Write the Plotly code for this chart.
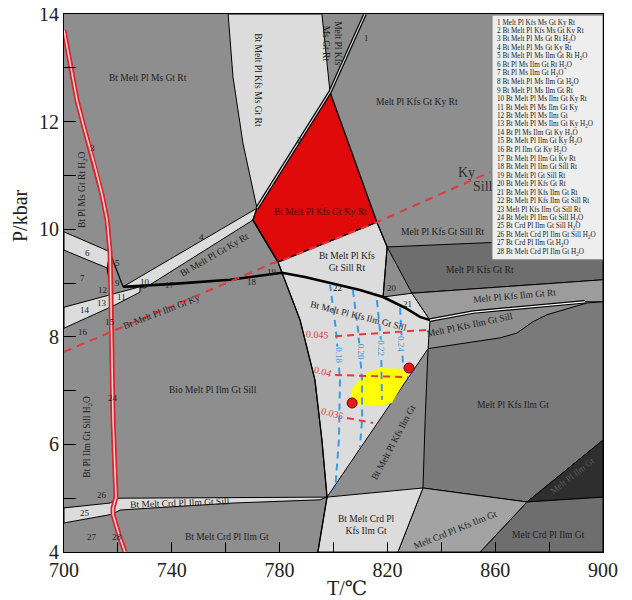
import plotly.graph_objects as go

FONT = "Liberation Serif, DejaVu Serif, serif"
BG = "#8e8e8e"
LIGHT = "#dcdcdc"

# ---------------- phase-field polygons (T in °C, P in kbar) ----------------
field_kfs_ms = [(760.9, 14.0), (762.7, 12.83), (766.4, 11.60), (771.6, 10.39),
                (798.7, 12.55), (797.2, 13.29), (795.7, 14.0)]
field_red = [(771.6, 10.39), (798.7, 12.55), (816.1, 10.13), (779.4, 9.39), (770.1, 10.17)]
band4 = [(771.6, 10.39), (770.1, 10.17), (730.1, 8.91), (721.9, 8.93)]
band6 = [(700, 9.95), (717.1, 9.58), (716.0, 9.28), (700, 9.61)]
band14 = [(700, 8.55), (728.2, 8.93), (728.2, 8.83), (718.9, 8.59), (700, 8.16)]
thick = [(721.9, 8.93), (739.3, 8.98), (761.6, 9.06), (772.7, 9.13), (780.9, 9.19),
         (789.4, 9.11), (798.7, 9.00), (809.8, 8.87), (818.4, 8.74), (826.5, 8.54),
         (832.1, 8.37), (835.8, 8.31)]
field_sill_rt = [(779.4, 9.39), (816.1, 10.13), (819.9, 9.67), (818.4, 8.74), (809.8, 8.87),
                 (798.7, 9.00), (789.4, 9.11), (780.9, 9.19)]
field21 = [(818.4, 8.74), (829.1, 8.81), (835.8, 8.31), (832.1, 8.37), (826.5, 8.54)]
band_dark = [(819.9, 9.67), (900, 9.84), (900, 9.06), (829.1, 8.81)]
band_ilm_rt = [(829.1, 8.81), (900, 9.06), (900, 8.65), (893.3, 8.65), (851.8, 8.46), (835.8, 8.31)]
field_big = [(835.1, 7.78), (861.8, 7.98), (868.1, 8.07), (874.0, 8.28), (879.2, 8.41),
             (894.1, 8.63), (900, 8.65), (900, 6.08), (871.8, 4.93), (833.2, 5.19), (834.0, 6.45)]
field_black = [(871.8, 4.93), (900, 6.08), (900, 5.02)]
field_crd_ilm = [(871.8, 4.93), (900, 5.02), (900, 4.0), (854.4, 4.0)]
field_crd_kfs = [(833.2, 5.19), (871.8, 4.93), (854.4, 4.0), (823.9, 4.0)]
field_bt_crd_kfs = [(797.6, 5.02), (833.2, 5.19), (823.9, 4.0), (794.2, 4.0)]
field_sill = thick[4:] + [(835.1, 7.78), (797.6, 5.02), (795.7, 6.08), (793.1, 7.20), (787.6, 8.31)]
band_crd_sill = [(700, 4.82), (717.1, 4.91), (720.0, 5.00), (797.6, 5.02), (795.0, 4.97),
                 (762.7, 4.91), (720.8, 4.78), (717.8, 4.70), (700, 4.54)]
field_yellow = [(806.1, 6.83), (807.2, 7.07), (812.4, 7.33), (817.3, 7.42), (825.8, 7.40),
                (828.4, 7.35), (821.7, 6.77), (818.4, 6.73), (810.9, 6.73)]

# ---------------- boundary lines ----------------
left_edge = [(770.1, 10.17), (779.4, 9.39), (780.9, 9.19), (787.6, 8.31), (793.1, 7.20),
             (795.7, 6.08), (797.6, 5.02), (794.2, 4.0)]
div_20 = [(816.1, 10.13), (819.9, 9.67), (818.4, 8.74)]
double_1 = [(798.7, 12.55), (811.7, 14.0)]
double_2 = [(798.7, 12.55), (771.6, 10.39)]
sliver = [(835.8, 8.31), (851.8, 8.46), (893.3, 8.65)]
small_a = [(717.1, 9.56), (721.9, 8.93)]
small_b = [(716.0, 9.28), (717.1, 8.96)]
h2o_line = [(700, 13.70), (702.2, 13.11), (704.8, 12.40), (708.2, 11.75), (711.5, 11.16),
            (714.1, 10.64), (716.0, 10.17), (717.1, 9.56), (717.4, 8.87), (717.8, 7.57),
            (718.2, 6.45), (718.9, 5.52), (719.3, 5.02), (718.2, 4.82), (718.2, 4.69),
            (720.4, 4.32), (722.6, 4.0)]
ky_sill = [(700, 7.72), (761.6, 9.02), (773.5, 9.28), (775.7, 9.35), (779.4, 9.39),
           (816.1, 10.13), (858.1, 11.06)]

# isopleths
iso_blue = {
    "0.18": [(798.7, 8.98), (800.9, 8.13), (802.4, 7.20), (802.0, 6.08), (800.6, 5.15)],
    "0.20": [(807.2, 8.87), (809.1, 8.13), (810.6, 7.20), (810.6, 6.45), (809.8, 5.95)],
    "0.22": [(816.1, 8.68), (817.6, 7.94), (818.0, 6.83)],
    "0.24": [(824.7, 8.54), (825.4, 7.94), (825.8, 7.48)],
}
iso_blue_lbl = {"0.18": (802.0, 7.66), "0.20": (810.2, 7.72), "0.22": (817.6, 7.79), "0.24": (825.0, 7.87)}
iso_red = {
    "0.045": [(800.6, 8.01), (835.1, 8.13)],
    "0.04": [(800.6, 7.29), (827.6, 7.25)],
    "0.035": [(805.0, 6.49), (814.7, 6.40)],
}
iso_red_lbl = {"0.045": (794.2, 8.05, 3), "0.04": (796.1, 7.36, 15), "0.035": (799.8, 6.57, 15)}
samples_T = [806.9, 828.0]
samples_P = [6.77, 7.42]

# field labels: text, T, P, angle
field_labels = [
    ("Bt Melt Pl Ms Gt Rt", 731.2, 12.81, 0),
    ("Bt Melt Pl Kfs Ms Gt Rt", 772.0, 12.77, 90),
    ("Bt Pl Ms Gt Rt H<sub>2</sub>O", 707.1, 10.73, -90),
    ("Melt Pl Kfs<br>Ms Gt Rt", 799.6, 13.45, 90),
    ("Melt Pl Kfs Gt Ky Rt", 831.0, 12.36, 0),
    ("Bt Melt Pl Gt Ky Rt", 755.7, 9.52, -30),
    ("Bt Melt Pl Ilm Gt Ky", 736.0, 8.46, -21),
    ("Bio Melt Pl Ilm Gt Sill", 755.3, 7.01, 0),
    ("Bt Pl Ilm Gt Sill H<sub>2</sub>O", 708.9, 6.14, -90),
    ("Bt Melt Crd Pl Ilm Gt Sill", 743.0, 4.91, -2),
    ("Bt Melt Crd Pl Ilm Gt", 760.5, 4.28, 0),
    ("Bt Melt Pl Kfs<br>Gt Sill Rt", 805.0, 9.39, 0),
    ("Bt Melt Pl Kfs Ilm Gt Sill", 809.1, 8.39, 14),
    ("Melt Pl Kfs Gt Sill Rt", 840.6, 9.95, 0),
    ("Melt Pl Kfs Gt Rt", 854.4, 9.24, 0),
    ("Melt Pl Kfs Ilm Gt Rt", 867.3, 8.76, -5),
    ("Melt Pl Kfs Ilm Gt Sill", 850.6, 8.22, -12),
    ("Melt Pl Kfs Ilm Gt", 866.6, 6.73, 0),
    ("Bt Melt Pl Kfs Ilm Gt", 822.1, 6.03, -62),
    ("Bt Melt Crd Pl<br>Kfs Ilm Gt", 812.4, 4.50, 0),
    ("Melt Crd Pl Kfs Ilm Gt", 845.1, 4.41, -22),
    ("Melt Crd Pl Ilm Gt", 879.6, 4.32, 0),
]
num_labels = [
    ("1", 812.1, 13.55), ("2", 787.2, 11.66), ("3", 710.4, 11.51), ("4", 751.2, 9.86),
    ("5", 719.7, 9.37), ("6", 708.9, 9.56), ("7", 706.7, 9.09), ("9", 719.7, 9.00),
    ("10", 730.1, 9.02), ("11", 721.5, 8.74), ("12", 714.1, 8.87), ("13", 714.1, 8.63),
    ("14", 707.8, 8.50), ("15", 717.1, 8.28), ("16", 707.1, 8.09), ("17", 739.3, 8.96),
    ("18", 769.8, 9.02), ("19", 777.2, 9.20), ("20", 821.7, 8.91), ("21", 827.6, 8.61),
    ("22", 801.3, 8.91), ("24", 718.2, 6.86), ("25", 707.8, 4.72), ("26", 714.1, 5.06),
    ("27", 710.4, 4.28), ("28", 719.7, 4.28),
]
legend_items = [
    "Melt Pl Kfs Ms Gt Ky Rt", "Bt Melt Pl Kfs Ms Gt Ky Rt", "Bt Melt Pl Ms Gt Rt H<sub>2</sub>O",
    "Bt Melt Pl Ms Gt Ky Rt", "Bt Melt Pl Ms Ilm Gt Rt H<sub>2</sub>O", "Bt Pl Ms Ilm Gt Rt H<sub>2</sub>O",
    "Bt Pl Ms Ilm Gt H<sub>2</sub>O", "Bt Melt Pl Ms Ilm Gt H<sub>2</sub>O", "Bt Melt Pl Ms Ilm Gt Rt",
    "Bt Melt Pl Ms Ilm Gt Ky Rt", "Bt Melt Pl Ms Ilm Gt Ky", "Bt Melt Pl Ms Ilm Gt",
    "Bt Melt Pl Ms Ilm Gt Ky H<sub>2</sub>O", "Bt Pl Ms Ilm Gt Ky H<sub>2</sub>O",
    "Bt Melt Pl Ilm Gt Ky H<sub>2</sub>O", "Bt Pl Ilm Gt Ky H<sub>2</sub>O", "Bt Melt Pl Ilm Gt Ky Rt",
    "Bt Melt Pl Ilm Gt Sill Rt", "Bt Melt Pl Gt Sill Rt", "Bt Melt Pl Kfs Gt Rt",
    "Bt Melt Pl Kfs Ilm Gt Rt", "Bt Melt Pl Kfs Ilm Gt Sill Rt", "Melt Pl Kfs Ilm Gt Sill Rt",
    "Bt Melt Pl Ilm Gt Sill H<sub>2</sub>O", "Bt Crd Pl Ilm Gt Sill H<sub>2</sub>O",
    "Bt Melt Crd Pl Ilm Gt Sill H<sub>2</sub>O", "Bt Crd Pl Ilm Gt H<sub>2</sub>O",
    "Bt Melt Crd Pl Ilm Gt H<sub>2</sub>O",
]
x_ticks = [700, 740, 780, 820, 860, 900]
y_ticks = [4, 6, 8, 10, 12, 14]

fig = go.Figure()


def poly(pts, fill, lw=1.0, lc="black"):
    pts = list(pts) + [pts[0]]
    fig.add_trace(go.Scatter(x=[p[0] for p in pts], y=[p[1] for p in pts], mode="lines",
                             fill="toself", fillcolor=fill, line=dict(color=lc, width=lw),
                             hoverinfo="skip", showlegend=False))


def line(pts, color="black", width=1.2, dash=None):
    fig.add_trace(go.Scatter(x=[p[0] for p in pts], y=[p[1] for p in pts], mode="lines",
                             line=dict(color=color, width=width, dash=dash),
                             hoverinfo="skip", showlegend=False))


poly(field_kfs_ms, LIGHT)
poly(band4, LIGHT)
poly(band6, LIGHT)
poly(band14, LIGHT)
poly(field_sill_rt, LIGHT)
poly(field21, LIGHT)
poly(band_dark, "#6e6e6e")
poly(band_ilm_rt, "#9c9c9c")
poly(field_big, "#7a7a7a")
poly(field_black, "#2e2e2e")
poly(field_crd_ilm, "#6e6e6e")
poly(field_crd_kfs, "#a3a3a3")
poly(field_bt_crd_kfs, LIGHT)
poly(field_sill, LIGHT)
poly(band_crd_sill, LIGHT)
poly(field_red, "#e00a0a", lw=1.4)
poly(field_yellow, "#ffff00", lw=0, lc="rgba(0,0,0,0)")

line(left_edge, width=1.3)
line(div_20, width=1.2)
line(small_a, width=1.2)
line(small_b, width=1.2)
line(thick, width=2.6)
for dl in (double_1, double_2):
    line(dl, width=3.6)
    line(dl, color="#d8d8d8", width=1.2)
line(sliver, width=3.6)
line(sliver, color="#ffffff", width=1.3)

for k, pts in iso_blue.items():
    line(pts, color="#3b9be6", width=2, dash="7px,5px")
for k, pts in iso_red.items():
    line(pts, color="#e0393e", width=2, dash="7px,5px")

line(h2o_line, color="#d9232a", width=5)
line(h2o_line, color="#f5d0d0", width=1.6)
line(ky_sill, color="#e0393e", width=2, dash="8px,6px")

fig.add_trace(go.Scatter(x=samples_T, y=samples_P, mode="markers",
                         marker=dict(size=10, color="#e01b1b", line=dict(color="#7a0000", width=1)),
                         hoverinfo="skip", showlegend=False))

ann = []
for t, x, y, a in field_labels:
    ann.append(dict(x=x, y=y, text=t, textangle=a, showarrow=False,
                    font=dict(family=FONT, size=9.5, color="#222")))
ann.append(dict(x=795.0, y=10.32, text="Bt Melt Pl Kfs Gt Ky Rt", showarrow=False,
                font=dict(family=FONT, size=9.5, color="#4a0606")))
ann.append(dict(x=888.5, y=5.41, text="Melt Pl Ilm Gt", textangle=-38, showarrow=False,
                font=dict(family=FONT, size=9, color="#5a5a5a")))
for t, x, y in num_labels:
    ann.append(dict(x=x, y=y, text=t, showarrow=False,
                    font=dict(family=FONT, size=9, color="#222")))
ann.append(dict(x=849.2, y=11.06, text="Ky", showarrow=False,
                font=dict(family=FONT, size=14, color="#333")))
ann.append(dict(x=855.3, y=10.80, text="Sill", showarrow=False,
                font=dict(family=FONT, size=14, color="#333")))
for k, (x, y) in iso_blue_lbl.items():
    ann.append(dict(x=x, y=y, text=k, textangle=90, showarrow=False, bgcolor=LIGHT,
                    borderpad=0, font=dict(family=FONT, size=9, color="#3b9be6")))
for k, (x, y, a) in iso_red_lbl.items():
    ann.append(dict(x=x, y=y, text=k, textangle=a, showarrow=False,
                    font=dict(family=FONT, size=10, color="#e0393e")))

for i, t in enumerate(legend_items):
    ann.append(dict(x=859.9, y=13.833 - 0.158 * i, text=f"{i + 1} {t}", xanchor="left",
                    yanchor="middle", showarrow=False,
                    font=dict(family=FONT, size=7.2, color="#222")))

ann.append(dict(xref="paper", yref="paper", x=-0.082, y=0.626, xanchor="center",
                yanchor="middle", text="P/kbar", textangle=-90,
                showarrow=False, font=dict(family=FONT, size=20, color="#222")))
ann.append(dict(xref="paper", yref="paper", x=0.525, y=-0.067, xanchor="center",
                yanchor="middle", text="T/℃",
                showarrow=False, font=dict(family=FONT, size=20, color="#222")))

fig.update_layout(
    width=624, height=592,
    margin=dict(l=56, r=29, t=6, b=48, autoexpand=False),
    font=dict(family=FONT),
    paper_bgcolor="white", plot_bgcolor=BG,
    annotations=ann,
    shapes=[dict(type="rect", xref="x", yref="y", x0=858.8, x1=900, y0=9.43, y1=13.98,
                 fillcolor="#eeeeee", line=dict(color="#777", width=1), layer="above")],
    xaxis=dict(range=[700, 900], tickvals=x_ticks, ticks="inside", ticklen=10, tickwidth=1,
               tickcolor="black", minor=dict(tickvals=[720, 760, 800, 840, 880], ticks="inside",
                                             ticklen=10, tickcolor="black"),
               showline=True, mirror=True, linecolor="black", linewidth=1,
               showgrid=False, zeroline=False, automargin=False, ticklabeloverflow="allow",
               tickfont=dict(family=FONT, size=20, color="#222")),
    yaxis=dict(range=[4, 14], tickvals=y_ticks, ticks="inside", ticklen=12, tickwidth=1,
               tickcolor="black", minor=dict(tickvals=[5, 7, 9, 11, 13], ticks="inside",
                                             ticklen=12, tickcolor="black"),
               showline=True, mirror=True, linecolor="black", linewidth=1,
               showgrid=False, zeroline=False, automargin=False, ticklabeloverflow="allow",
               tickfont=dict(family=FONT, size=20, color="#222")),
)

fig.write_html("out.html")
